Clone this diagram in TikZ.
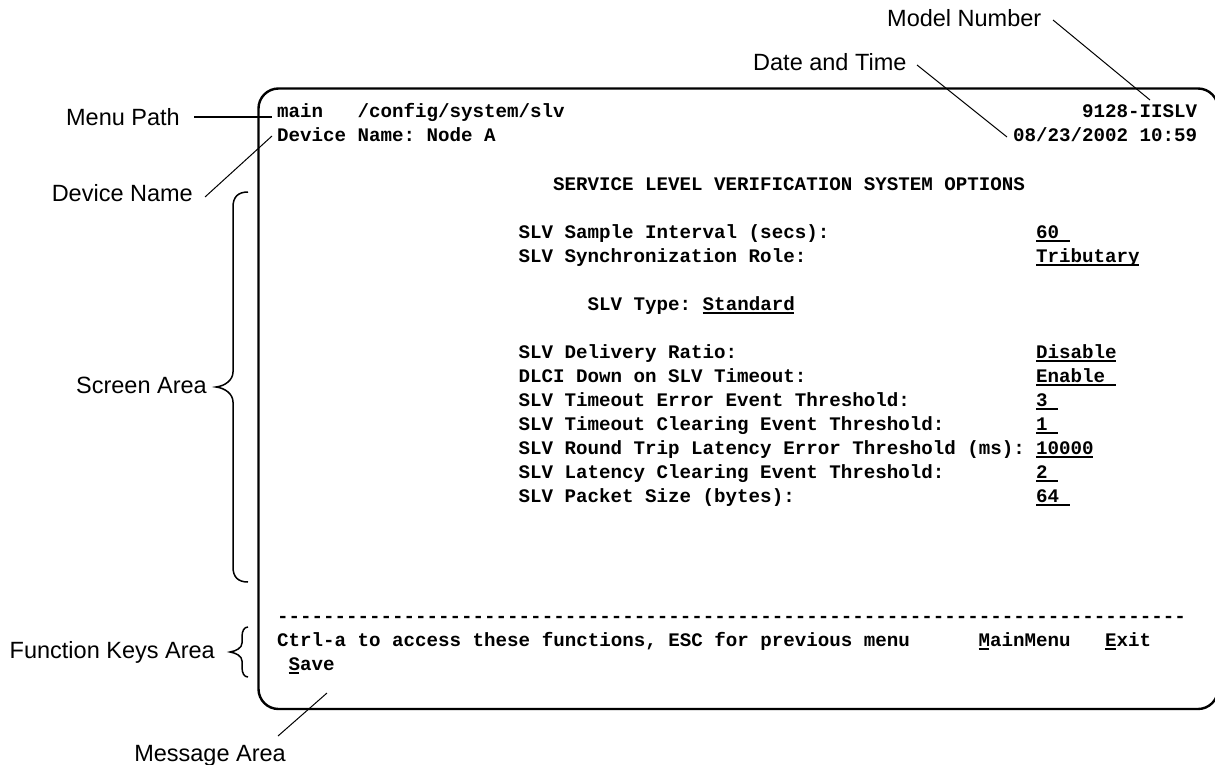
\documentclass[tikz,border=0pt]{standalone}
\usepackage{fontspec}
\setmainfont{Liberation Sans}
\setmonofont{Liberation Mono}
\newdimen\cw \cw=11.5pt
\newcommand\ul[2]{\rlap{\rule[-3.5pt]{\dimexpr #1\cw - 1pt\relax}{1.5pt}}#2}
\newcommand\repdash[1]{\ifnum#1>0 -\kern0pt\expandafter\repdash\expandafter{\the\numexpr#1-1\relax}\fi}
\tikzset{
  term/.style={inner sep=0pt, anchor=base west,
    font=\fontsize{19.17}{23}\selectfont\ttfamily\bfseries\frenchspacing},
  lab/.style={inner sep=0pt, font=\fontsize{23.5}{28}\selectfont},
  lead/.style={line width=1pt},
  bracepath/.style={line width=1.5pt},
  screenbox/.style={line width=2.4pt, rounded corners=20pt}
}
\newcommand\trow[4]{\node[term] (#1) at ({277+#2*11.5},{118+(#3-1)*24}) {#4};}
\begin{document}
\begin{tikzpicture}[x=1pt,y=-1pt]
\useasboundingbox (0,0) rectangle (1215,765);
% screen frame
\draw[screenbox] (258.5,88.5) rectangle (1218,709);
% terminal text
\trow{t1a}{0}{1}{main}
\trow{t1b}{7}{1}{/config/system/slv}
\trow{t1c}{70}{1}{9128-IISLV}
\trow{t2a}{0}{2}{Device Name: Node A}
\trow{t2b}{64}{2}{08/23/2002 10:59}
\trow{t4}{24}{4}{SERVICE LEVEL VERIFICATION SYSTEM OPTIONS}
\trow{t6a}{21}{6}{SLV Sample Interval (secs):}
\trow{t6b}{66}{6}{\ul{3}{60}}
\trow{t7a}{21}{7}{SLV Synchronization Role:}
\trow{t7b}{66}{7}{\ul{9}{Tributary}}
\trow{t9}{27}{9}{SLV Type: \ul{8}{Standard}}
\trow{t11a}{21}{11}{SLV Delivery Ratio:}
\trow{t11b}{66}{11}{\ul{7}{Disable}}
\trow{t12a}{21}{12}{DLCI Down on SLV Timeout:}
\trow{t12b}{66}{12}{\ul{7}{Enable}}
\trow{t13a}{21}{13}{SLV Timeout Error Event Threshold:}
\trow{t13b}{66}{13}{\ul{2}{3}}
\trow{t14a}{21}{14}{SLV Timeout Clearing Event Threshold:}
\trow{t14b}{66}{14}{\ul{2}{1}}
\trow{t15a}{21}{15}{SLV Round Trip Latency Error Threshold (ms):}
\trow{t15b}{66}{15}{\ul{5}{10000}}
\trow{t16a}{21}{16}{SLV Latency Clearing Event Threshold:}
\trow{t16b}{66}{16}{\ul{2}{2}}
\trow{t17a}{21}{17}{SLV Packet Size (bytes):}
\trow{t17b}{66}{17}{\ul{3}{64}}
\trow{t22}{0}{22}{\repdash{79}}
\trow{t23a}{0}{23}{Ctrl-a to access these functions, ESC for previous menu}
\trow{t23b}{61}{23}{\ul{1}{M}ainMenu}
\trow{t23c}{72}{23}{\ul{1}{E}xit}
\trow{t24}{1}{24}{\ul{1}{S}ave}
% callout labels
\node[lab, anchor=base west] (lmodel) at (887,26.5) {Model Number};
\node[lab, anchor=base west] (ldate) at (753,70.5) {Date and Time};
\node[lab, anchor=base east] (lmenu) at (180,125.5) {Menu Path};
\node[lab, anchor=base east] (ldev) at (193,201.5) {Device Name};
\node[lab, anchor=base east] (lscreen) at (207,393.5) {Screen Area};
\node[lab, anchor=base east] (lfunc) at (215,658.5) {Function Keys Area};
\node[lab, anchor=base east] (lmsg) at (286,761.5) {Message Area};
% leader lines
\coordinate (m1) at (1053,20); \coordinate (m2) at (1150,100);
\coordinate (d1) at (917,65); \coordinate (d2) at (1007,137);
\coordinate (p1) at (194,117); \coordinate (p2) at (272,117);
\coordinate (n1) at (205,197); \coordinate (n2) at (272,136);
\coordinate (g1) at (278,736); \coordinate (g2) at (327,693);
\draw[lead] (m1) -- (m2);
\draw[lead] (d1) -- (d2);
\draw[line width=2pt] (p1) -- (p2);
\draw[lead] (n1) -- (n2);
\draw[lead] (g1) -- (g2);
% braces
\coordinate (sa1) at (248,192); \coordinate (sa2) at (248,582);
\draw[bracepath] (sa1) .. controls (238,192) and (233,197) .. (233,207) -- (233,372)
  .. controls (233,380) and (225,386) .. (216,387)
  .. controls (225,388) and (233,394) .. (233,402) -- (233,567)
  .. controls (233,577) and (238,582) .. (sa2);
\coordinate (fk1) at (248,627); \coordinate (fk2) at (248,677);
\draw[bracepath] (fk1) .. controls (244,627) and (242,631) .. (242,637) -- (242,643)
  .. controls (242,648) and (236,651) .. (230,652)
  .. controls (236,653) and (242,656) .. (242,661) -- (242,667)
  .. controls (242,673) and (244,677) .. (fk2);
\end{tikzpicture}
\end{document}
